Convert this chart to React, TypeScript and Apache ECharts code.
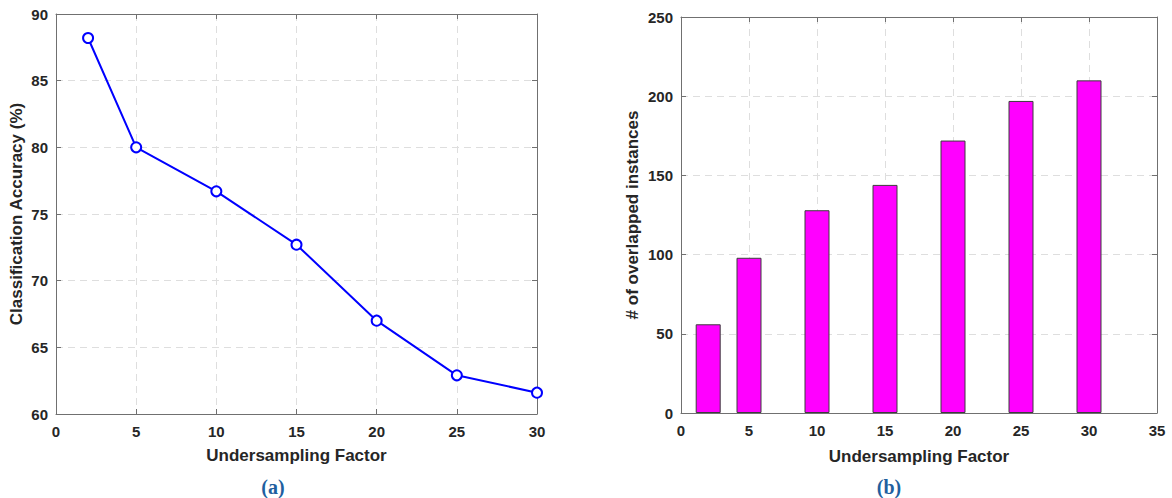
import React, { useEffect, useRef } from "react";
import * as echarts from "echarts";

const factorsA = [2, 5, 10, 15, 20, 25, 30];
const accuracy = [88.2, 80, 76.7, 72.7, 67, 62.9, 61.6];
const factorsB = [2, 5, 10, 15, 20, 25, 30];
const overlapped = [56, 98, 128, 144, 172, 197, 210];
const xTitle = "Undersampling Factor";
const yTitleA = "Classification Accuracy (%)";
const yTitleB = "# of overlapped instances";
const captions = ["(a)", "(b)"];

const FRAME = "#707070";
const TEXT = "#262626";
const GRID = "#dedede";
const FONT = "Liberation Sans";
const SERIF = "Liberation Serif";

function axisCommon(main: boolean) {
  return {
    axisLine: { show: true, onZero: false, lineStyle: { color: FRAME, width: 1 } },
    axisTick: { show: true, inside: true, length: 5, lineStyle: { color: FRAME } },
    axisLabel: main
      ? { show: true, color: TEXT, fontFamily: FONT, fontWeight: "bold", fontSize: 14 }
      : { show: false },
    splitLine: main
      ? { show: true, lineStyle: { color: GRID, type: [7, 5], width: 1 } }
      : { show: false },
  };
}

const tickLabel = (margin: number) => ({
  color: TEXT, fontFamily: FONT, fontWeight: "bold", fontSize: 15, margin,
});

export default function App() {
  const ref = useRef<HTMLDivElement>(null);
  useEffect(() => {
    if (!ref.current) return;
    const chart = echarts.init(ref.current, null, { renderer: "svg" });
    const nameStyle = { color: TEXT, fontFamily: FONT, fontWeight: "bold", fontSize: 17 };
    chart.setOption({
      animation: false,
      backgroundColor: "#ffffff",
      grid: [
        { left: 56, top: 14, width: 481, height: 400 },
        { left: 681, top: 17, width: 476, height: 396 },
      ],
      xAxis: [
        {
          type: "value", gridIndex: 0, min: 0, max: 30, interval: 5, position: "bottom",
          name: xTitle, nameLocation: "middle", nameGap: 33, nameTextStyle: nameStyle,
          ...axisCommon(true),
          axisLabel: tickLabel(10),
        },
        { type: "value", gridIndex: 0, min: 0, max: 30, interval: 5, position: "top", ...axisCommon(false) },
        {
          type: "value", gridIndex: 1, min: 0, max: 35, interval: 5, position: "bottom",
          name: xTitle, nameLocation: "middle", nameGap: 35, nameTextStyle: nameStyle,
          ...axisCommon(true),
          axisLabel: tickLabel(10),
        },
        { type: "value", gridIndex: 1, min: 0, max: 35, interval: 5, position: "top", ...axisCommon(false) },
      ],
      yAxis: [
        {
          type: "value", gridIndex: 0, min: 60, max: 90, interval: 5, position: "left",
          name: yTitleA, nameLocation: "middle", nameGap: 31, nameTextStyle: nameStyle,
          ...axisCommon(true),
          axisLabel: tickLabel(8),
        },
        { type: "value", gridIndex: 0, min: 60, max: 90, interval: 5, position: "right", ...axisCommon(false) },
        {
          type: "value", gridIndex: 1, min: 0, max: 250, interval: 50, position: "left",
          name: yTitleB, nameLocation: "middle", nameGap: 40, nameTextStyle: nameStyle,
          ...axisCommon(true),
          axisLabel: tickLabel(8),
        },
        { type: "value", gridIndex: 1, min: 0, max: 250, interval: 50, position: "right", ...axisCommon(false) },
      ],
      series: [
        {
          type: "line",
          xAxisIndex: 0,
          yAxisIndex: 0,
          data: factorsA.map((x, i) => [x, accuracy[i]]),
          lineStyle: { color: "#0000ff", width: 2 },
          symbol: "circle",
          symbolSize: 10,
          itemStyle: { color: "#ffffff", borderColor: "#0000ff", borderWidth: 2 },
          z: 5,
        },
        {
          type: "bar",
          xAxisIndex: 2,
          yAxisIndex: 2,
          data: factorsB.map((x, i) => [x, overlapped[i]]),
          barWidth: 25,
          itemStyle: { color: "#ff00ff", borderColor: "#3c3c3c", borderWidth: 1 },
          z: 5,
        },
      ],
      graphic: [
        {
          type: "text", x: 273, y: 487,
          style: {
            text: captions[0], fill: "#1f5f9f", fontFamily: SERIF, fontWeight: "bold", fontSize: 20,
            align: "center", verticalAlign: "middle",
          },
        },
        {
          type: "text", x: 889, y: 487,
          style: {
            text: captions[1], fill: "#1f5f9f", fontFamily: SERIF, fontWeight: "bold", fontSize: 20,
            align: "center", verticalAlign: "middle",
          },
        },
      ],
    });
    return () => chart.dispose();
  }, []);
  return (
    <div
      ref={ref}
      style={{ position: "absolute", left: 0, top: 0, width: 1172, height: 498, background: "#fff" }}
    />
  );
}
